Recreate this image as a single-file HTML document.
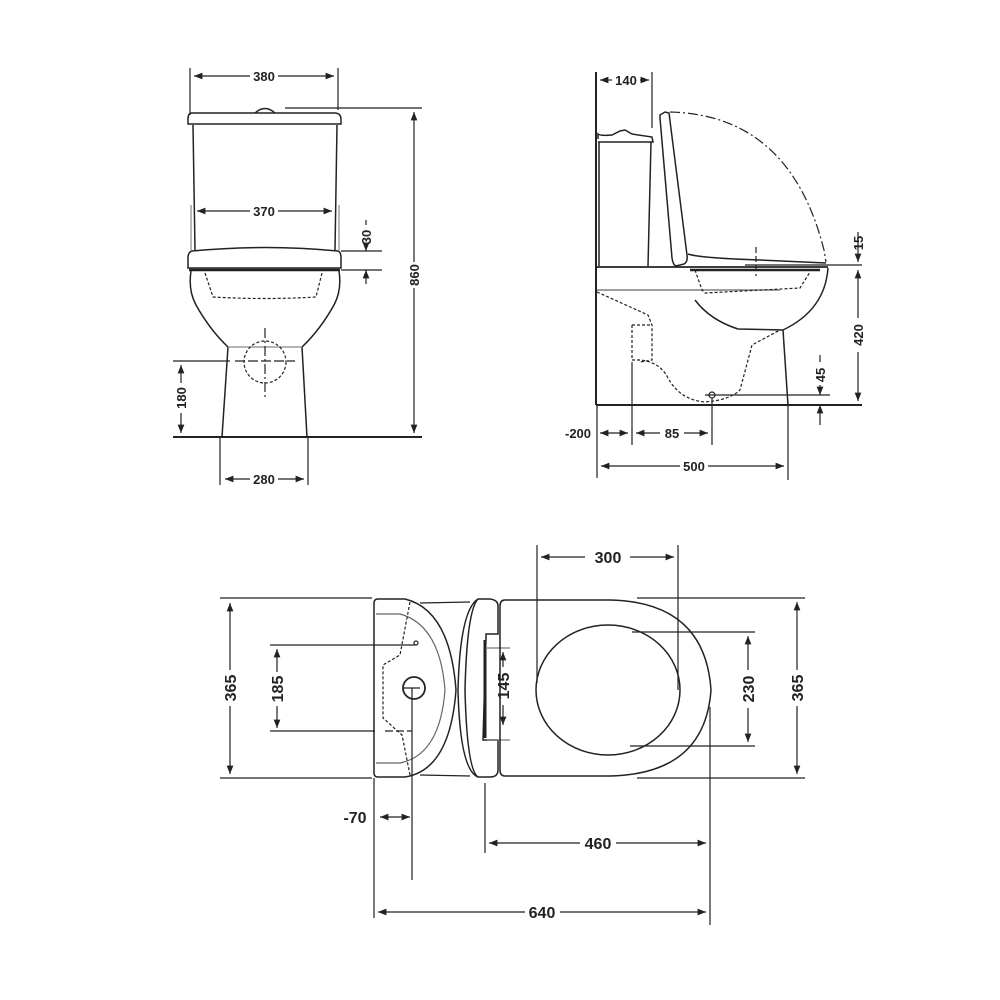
<!DOCTYPE html>
<html><head><meta charset="utf-8"><style>
html,body{margin:0;padding:0;background:#fff}
svg{display:block}
text{font-family:"Liberation Sans",sans-serif;font-weight:bold;font-size:13px;fill:#222}
.t{font-size:16px}
</style></head><body>
<svg width="1000" height="1000" viewBox="0 0 1000 1000" xmlns="http://www.w3.org/2000/svg">
<defs>
<marker id="a" viewBox="0 0 10 10" refX="10" refY="5" markerWidth="7" markerHeight="7" orient="auto-start-reverse"><path d="M0,1 L10,5 L0,9 z" fill="#222"/></marker>
</defs>
<g fill="none" stroke="#222" stroke-width="1.2">
<!-- FRONT VIEW -->
<line x1="190" y1="68" x2="190" y2="115"/><line x1="338" y1="68" x2="338" y2="110"/>
<line x1="194" y1="76" x2="250" y2="76" marker-start="url(#a)"/><line x1="278" y1="76" x2="334" y2="76" marker-end="url(#a)"/>
<path d="M255,113 Q265,104 275,113" stroke-width="1.5"/>
<path d="M192,113 L336,113 Q341,114 341,119 L341,124 L188,124 L188,119 Q188,113 192,113 z" stroke-width="1.5"/>
<path d="M193,125 L195,250 M337,125 L335,250" stroke-width="1.5"/>
<line x1="191" y1="205" x2="191" y2="250" stroke="#888"/><line x1="339" y1="205" x2="339" y2="250" stroke="#888"/>
<line x1="197" y1="211" x2="250" y2="211" marker-start="url(#a)"/><line x1="278" y1="211" x2="332" y2="211" marker-end="url(#a)"/>
<path d="M192,251 Q265,244 338,251 Q341,252 341,258 L341,268 L188,268 L188,258 Q188,252 192,251 z" stroke-width="1.5"/>
<line x1="189" y1="270" x2="340" y2="270" stroke-width="2.5"/>
<path d="M191,271 Q188,290 196,305 Q210,330 228,347 L222,437 M339,271 Q342,290 334,305 Q320,330 302,347 L307,437" stroke-width="1.5"/>
<line x1="228" y1="347" x2="302" y2="347" stroke="#888"/>
<path d="M205,273 L213,297 Q265,300 316,297 L322,273" stroke-dasharray="3,2"/>
<circle cx="265" cy="362" r="21" stroke-dasharray="3,2"/>
<line x1="265" y1="328" x2="265" y2="397" stroke-dasharray="10,3,2,3"/>
<line x1="173" y1="361" x2="230" y2="361"/><line x1="235" y1="361" x2="295" y2="361" stroke-dasharray="10,3"/>
<line x1="173" y1="437" x2="422" y2="437" stroke-width="2"/>
<line x1="285" y1="108" x2="422" y2="108"/>
<line x1="414" y1="112" x2="414" y2="262" marker-start="url(#a)"/><line x1="414" y1="288" x2="414" y2="433" marker-end="url(#a)"/>
<line x1="341" y1="251" x2="382" y2="251"/><line x1="341" y1="270" x2="382" y2="270"/>
<line x1="366" y1="220" x2="366" y2="225"/><line x1="366" y1="247" x2="366" y2="251" marker-end="url(#a)"/><line x1="366" y1="284" x2="366" y2="270" marker-end="url(#a)"/>
<line x1="181" y1="365" x2="181" y2="383" marker-start="url(#a)"/><line x1="181" y1="413" x2="181" y2="433" marker-end="url(#a)"/>
<line x1="220" y1="437" x2="220" y2="485"/><line x1="308" y1="437" x2="308" y2="485"/>
<line x1="225" y1="479" x2="250" y2="479" marker-start="url(#a)"/><line x1="278" y1="479" x2="304" y2="479" marker-end="url(#a)"/>

<!-- SIDE VIEW -->
<line x1="596" y1="72" x2="596" y2="405" stroke-width="2"/>
<line x1="596" y1="405" x2="862" y2="405" stroke-width="2"/>
<line x1="652" y1="72" x2="652" y2="128"/>
<line x1="600" y1="80" x2="612" y2="80" marker-start="url(#a)"/><line x1="640" y1="80" x2="649" y2="80" marker-end="url(#a)"/>
<path d="M598,139 L598,134 Q600,136 612,135 L620,131 L625,130 L632,134 L652,137 L653,142 L598,142" stroke-width="1.5"/>
<path d="M599,142 L599,266 M651,142 L648,266" stroke-width="1.5"/>
<path d="M660,115 L665,112 L669,113 L687,255 Q688,262 684,264 L676,266 Q673,265 672,258 L660,118 z" stroke-width="1.5"/>
<path d="M688,254 Q700,258 760,260 L826,263" stroke-width="1.5"/>
<path d="M670,112 Q790,115 824,250 L826,262" stroke-dasharray="10,3,2,3"/>
<line x1="756" y1="247" x2="756" y2="276" stroke-dasharray="6,3"/>
<line x1="597" y1="267" x2="828" y2="267" stroke-width="1.8"/>
<line x1="745" y1="265" x2="862" y2="265"/>
<line x1="690" y1="270" x2="820" y2="270" stroke-width="2.5"/>
<line x1="597" y1="290" x2="780" y2="290" stroke="#666"/>
<path d="M828,268 Q825,310 783,330 L738,329 Q710,320 695,300" stroke-width="1.5"/>
<path d="M783,330 L788,405" stroke-width="1.5"/>
<path d="M597,292 L648,315 L652,325 L652,360 L640,362 M632,325 L650,325 M632,325 L632,360 L640,360 Q660,362 668,378 Q680,400 705,402 Q730,400 740,390 L752,345 L780,330" stroke-dasharray="3,2"/>
<path d="M695,270 L702,290 L705,293 L800,288 L810,272" stroke-dasharray="3,2"/>
<circle cx="712" cy="395" r="3"/>
<line x1="705" y1="395" x2="830" y2="395"/>
<line x1="858" y1="232" x2="858" y2="262" marker-end="url(#a)"/>
<line x1="858" y1="270" x2="858" y2="318" marker-start="url(#a)"/><line x1="858" y1="352" x2="858" y2="401" marker-end="url(#a)"/>
<line x1="820" y1="355" x2="820" y2="362"/><line x1="820" y1="385" x2="820" y2="395" marker-end="url(#a)"/><line x1="820" y1="425" x2="820" y2="405" marker-end="url(#a)"/>
<line x1="597" y1="405" x2="597" y2="478"/><line x1="632" y1="362" x2="632" y2="445"/><line x1="712" y1="398" x2="712" y2="445"/><line x1="788" y1="405" x2="788" y2="480"/>
<line x1="600" y1="433" x2="628" y2="433" marker-start="url(#a)" marker-end="url(#a)"/>
<line x1="636" y1="433" x2="660" y2="433" marker-start="url(#a)"/><line x1="684" y1="433" x2="708" y2="433" marker-end="url(#a)"/>
<line x1="601" y1="466" x2="680" y2="466" marker-start="url(#a)"/><line x1="708" y1="466" x2="784" y2="466" marker-end="url(#a)"/>

<!-- TOP VIEW -->
<line x1="220" y1="598" x2="372" y2="598"/><line x1="220" y1="778" x2="372" y2="778"/>
<line x1="230" y1="603" x2="230" y2="670" marker-start="url(#a)"/><line x1="230" y1="706" x2="230" y2="774" marker-end="url(#a)"/>
<line x1="270" y1="645" x2="415" y2="645"/><line x1="270" y1="731" x2="375" y2="731"/><line x1="385" y1="731" x2="412" y2="731" stroke-dasharray="8,3"/>
<line x1="277" y1="649" x2="277" y2="672" marker-start="url(#a)"/><line x1="277" y1="706" x2="277" y2="728" marker-end="url(#a)"/>
<path d="M378,599 L405,599 Q450,610 456,690 Q450,770 405,777 L378,777 Q374,777 374,773 L374,603 Q374,599 378,599 z" stroke-width="1.5"/>
<path d="M376,614 L400,614 Q440,625 445,690 Q440,755 400,763 L376,763" stroke="#666"/>
<path d="M410,602 L400,655 L383,665 L383,718 L402,735 L410,775" stroke-dasharray="3,2"/>
<circle cx="416" cy="643" r="2"/>
<circle cx="414" cy="688" r="11" stroke-width="1.8"/>
<line x1="412" y1="688" x2="412" y2="880"/><line x1="403" y1="688" x2="420" y2="688"/>
<line x1="374" y1="778" x2="374" y2="918"/>
<path d="M420,603 L470,602 M420,775 L470,776" stroke-width="1.3"/>
<path d="M478,599 Q460,610 458,690 Q460,770 478,777" stroke-width="1.5"/>
<path d="M478,599 L490,599 Q498,600 498,606 L498,634 L486,634 L486,638 L483,740 L498,740 L498,770 Q498,777 490,777 L478,777 Q467,770 465,690 Q467,610 478,599 z" stroke-width="1.5"/>
<line x1="485" y1="640" x2="485" y2="738" stroke-width="3"/>
<line x1="487" y1="648" x2="510" y2="648" stroke="#777"/><line x1="487" y1="740" x2="510" y2="740" stroke="#777"/>
<line x1="503" y1="652" x2="503" y2="667" marker-start="url(#a)"/><line x1="503" y1="705" x2="503" y2="725" marker-end="url(#a)"/>
<path d="M505,600 L610,600 Q705,602 711,690 Q705,774 610,776 L505,776 Q500,776 500,770 L500,606 Q500,600 505,600 z" stroke-width="1.5"/>
<ellipse cx="608" cy="690" rx="72" ry="65" stroke-width="1.5"/>
<line x1="537" y1="545" x2="537" y2="683"/><line x1="678" y1="545" x2="678" y2="690"/>
<line x1="541" y1="557" x2="585" y2="557" marker-start="url(#a)"/><line x1="630" y1="557" x2="674" y2="557" marker-end="url(#a)"/>
<line x1="632" y1="632" x2="755" y2="632"/><line x1="630" y1="746" x2="755" y2="746"/>
<line x1="748" y1="636" x2="748" y2="670" marker-start="url(#a)"/><line x1="748" y1="708" x2="748" y2="742" marker-end="url(#a)"/>
<line x1="637" y1="598" x2="805" y2="598"/><line x1="637" y1="778" x2="805" y2="778"/>
<line x1="797" y1="602" x2="797" y2="670" marker-start="url(#a)"/><line x1="797" y1="706" x2="797" y2="774" marker-end="url(#a)"/>
<line x1="380" y1="817" x2="410" y2="817" marker-start="url(#a)" marker-end="url(#a)"/>
<line x1="485" y1="783" x2="485" y2="853"/><line x1="710" y1="707" x2="710" y2="925"/>
<line x1="489" y1="843" x2="580" y2="843" marker-start="url(#a)"/><line x1="616" y1="843" x2="706" y2="843" marker-end="url(#a)"/>
<line x1="378" y1="912" x2="525" y2="912" marker-start="url(#a)"/><line x1="560" y1="912" x2="706" y2="912" marker-end="url(#a)"/>
</g>
<!-- TEXT -->
<text x="264" y="81" text-anchor="middle">380</text>
<text x="264" y="216" text-anchor="middle">370</text>
<text x="264" y="484" text-anchor="middle">280</text>
<text transform="translate(419,275) rotate(-90)" text-anchor="middle">860</text>
<text transform="translate(371,237) rotate(-90)" text-anchor="middle">30</text>
<text transform="translate(186,398) rotate(-90)" text-anchor="middle">180</text>
<text x="626" y="85" text-anchor="middle">140</text>
<text transform="translate(863,243) rotate(-90)" text-anchor="middle">15</text>
<text transform="translate(863,335) rotate(-90)" text-anchor="middle">420</text>
<text transform="translate(825,375) rotate(-90)" text-anchor="middle">45</text>
<text x="578" y="438" text-anchor="middle">-200</text>
<text x="672" y="438" text-anchor="middle">85</text>
<text x="694" y="471" text-anchor="middle">500</text>
<text class="t" x="608" y="563" text-anchor="middle">300</text>
<text class="t" transform="translate(236,688) rotate(-90)" text-anchor="middle">365</text>
<text class="t" transform="translate(283,689) rotate(-90)" text-anchor="middle">185</text>
<text class="t" transform="translate(509,686) rotate(-90)" text-anchor="middle">145</text>
<text class="t" transform="translate(754,689) rotate(-90)" text-anchor="middle">230</text>
<text class="t" transform="translate(803,688) rotate(-90)" text-anchor="middle">365</text>
<text class="t" x="355" y="823" text-anchor="middle">-70</text>
<text class="t" x="598" y="849" text-anchor="middle">460</text>
<text class="t" x="542" y="918" text-anchor="middle">640</text>
</svg>
</body></html>
